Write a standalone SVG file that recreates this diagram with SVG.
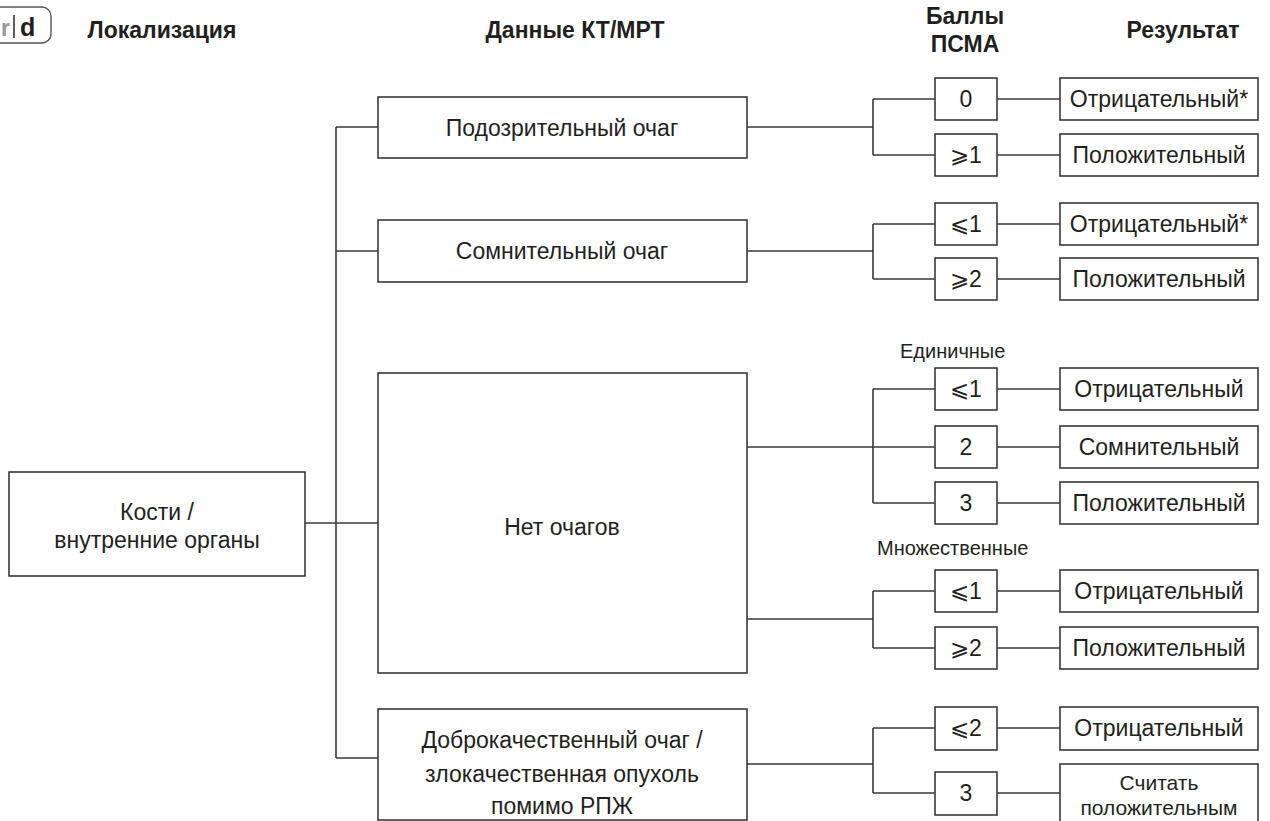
<svg xmlns="http://www.w3.org/2000/svg" width="1270" height="821" viewBox="0 0 1270 821">
<style>
  .bg{fill:#ffffff}
  .box{fill:#ffffff;stroke:#3a3a3a;stroke-width:1.6}
  .ln{fill:none;stroke:#3a3a3a;stroke-width:1.6}
  .t{font-family:"Liberation Sans",Arial,sans-serif;font-size:23px;fill:#231f20;text-anchor:middle}
  .t2{font-family:"Liberation Sans",Arial,sans-serif;font-size:21px;fill:#231f20;text-anchor:middle}
  .h{font-family:"Liberation Sans",Arial,sans-serif;font-size:23px;font-weight:bold;fill:#231f20;text-anchor:middle}
  .s{font-family:"Liberation Sans",Arial,sans-serif;font-size:20px;fill:#231f20}
</style>
<rect class="bg" x="0" y="0" width="1270" height="821"/>

<g id="tab">
  <rect x="-30" y="7" width="81" height="36" rx="9" ry="9" fill="#ffffff" stroke="#555555" stroke-width="1.4"/>
  <line x1="14" y1="15" x2="14" y2="38" stroke="#333333" stroke-width="1.6"/>
  <text x="1" y="36" font-family="Liberation Sans,Arial,sans-serif" font-size="23" font-weight="bold" fill="#9a9a9a">r</text>
  <text x="20" y="36" font-family="Liberation Sans,Arial,sans-serif" font-size="25" font-weight="bold" fill="#231f20">d</text>
</g>

<g id="headers">
  <text class="h" x="162" y="38">Локализация</text>
  <text class="h" x="575" y="38">Данные КТ/МРТ</text>
  <text class="h" x="965" y="24">Баллы</text>
  <text class="h" x="965" y="52">ПСМА</text>
  <text class="h" x="1183" y="38">Результат</text>
</g>

<g id="connectors">
  <path class="ln" d="M305 523 H378"/>
  <path class="ln" d="M336 127 V758"/>
  <path class="ln" d="M336 127 H378 M336 251 H378 M336 758 H378"/>
  <path class="ln" d="M747 127 H873 M873 99 V155 M873 99 H935 M873 155 H935"/>
  <path class="ln" d="M747 251 H873 M873 224 V279 M873 224 H935 M873 279 H935"/>
  <path class="ln" d="M747 447 H935 M873 389 V503 M873 389 H935 M873 503 H935"/>
  <path class="ln" d="M747 619 H873 M873 591 V648 M873 591 H935 M873 648 H935"/>
  <path class="ln" d="M747 764 H873 M873 728 V793 M873 728 H935 M873 793 H935"/>
  <path class="ln" d="M997 99 H1060 M997 155 H1060 M997 224 H1060 M997 279 H1060 M997 389 H1060 M997 447 H1060 M997 503 H1060 M997 591 H1060 M997 648 H1060 M997 728 H1060 M997 793 H1060"/>
</g>

<g id="n-root">
  <rect class="box" x="9" y="472" width="296" height="104"/>
  <text class="t" x="157" y="520">Кости /</text>
  <text class="t" x="157" y="548">внутренние органы</text>
</g>

<g id="n-susp">
  <rect class="box" x="378" y="97" width="369" height="61"/>
  <text class="t" x="562" y="136">Подозрительный очаг</text>
</g>
<g id="n-doubt">
  <rect class="box" x="378" y="220" width="369" height="62"/>
  <text class="t" x="562" y="259">Сомнительный очаг</text>
</g>
<g id="n-none">
  <rect class="box" x="378" y="373" width="369" height="300"/>
  <text class="t" x="562" y="535">Нет очагов</text>
</g>
<g id="n-benign">
  <rect class="box" x="378" y="709" width="369" height="111"/>
  <text class="t" x="562" y="748">Доброкачественный очаг /</text>
  <text class="t" x="562" y="782">злокачественная опухоль</text>
  <text class="t" x="562" y="814">помимо РПЖ</text>
</g>

<g id="labels">
  <text class="s" x="900" y="358">Единичные</text>
  <text class="s" x="877" y="555">Множественные</text>
</g>

<g id="scores">
  <g id="s1"><rect class="box" x="935" y="78" width="62" height="42"/><text class="t" x="966" y="107">0</text></g>
  <g id="s2"><rect class="box" x="935" y="134" width="62" height="42"/><text class="t" x="966" y="163">⩾1</text></g>
  <g id="s3"><rect class="box" x="935" y="203" width="62" height="42"/><text class="t" x="966" y="232">⩽1</text></g>
  <g id="s4"><rect class="box" x="935" y="258" width="62" height="42"/><text class="t" x="966" y="287">⩾2</text></g>
  <g id="s5"><rect class="box" x="935" y="368" width="62" height="42"/><text class="t" x="966" y="397">⩽1</text></g>
  <g id="s6"><rect class="box" x="935" y="426" width="62" height="42"/><text class="t" x="966" y="455">2</text></g>
  <g id="s7"><rect class="box" x="935" y="482" width="62" height="42"/><text class="t" x="966" y="511">3</text></g>
  <g id="s8"><rect class="box" x="935" y="570" width="62" height="42"/><text class="t" x="966" y="599">⩽1</text></g>
  <g id="s9"><rect class="box" x="935" y="627" width="62" height="42"/><text class="t" x="966" y="656">⩾2</text></g>
  <g id="s10"><rect class="box" x="935" y="707" width="62" height="43"/><text class="t" x="966" y="736">⩽2</text></g>
  <g id="s11"><rect class="box" x="935" y="772" width="62" height="43"/><text class="t" x="966" y="801">3</text></g>
</g>

<g id="results">
  <g id="r1"><rect class="box" x="1060" y="78" width="198" height="42"/><text class="t" x="1159" y="107">Отрицательный*</text></g>
  <g id="r2"><rect class="box" x="1060" y="134" width="198" height="42"/><text class="t" x="1159" y="163">Положительный</text></g>
  <g id="r3"><rect class="box" x="1060" y="203" width="198" height="42"/><text class="t" x="1159" y="232">Отрицательный*</text></g>
  <g id="r4"><rect class="box" x="1060" y="258" width="198" height="42"/><text class="t" x="1159" y="287">Положительный</text></g>
  <g id="r5"><rect class="box" x="1060" y="368" width="198" height="42"/><text class="t" x="1159" y="397">Отрицательный</text></g>
  <g id="r6"><rect class="box" x="1060" y="426" width="198" height="42"/><text class="t" x="1159" y="455">Сомнительный</text></g>
  <g id="r7"><rect class="box" x="1060" y="482" width="198" height="42"/><text class="t" x="1159" y="511">Положительный</text></g>
  <g id="r8"><rect class="box" x="1060" y="570" width="198" height="42"/><text class="t" x="1159" y="599">Отрицательный</text></g>
  <g id="r9"><rect class="box" x="1060" y="627" width="198" height="42"/><text class="t" x="1159" y="656">Положительный</text></g>
  <g id="r10"><rect class="box" x="1060" y="707" width="198" height="43"/><text class="t" x="1159" y="736">Отрицательный</text></g>
  <g id="r11"><rect class="box" x="1060" y="764" width="198" height="60"/><text class="t2" x="1159" y="790">Считать</text><text class="t2" x="1159" y="815">положительным</text></g>
</g>
</svg>
